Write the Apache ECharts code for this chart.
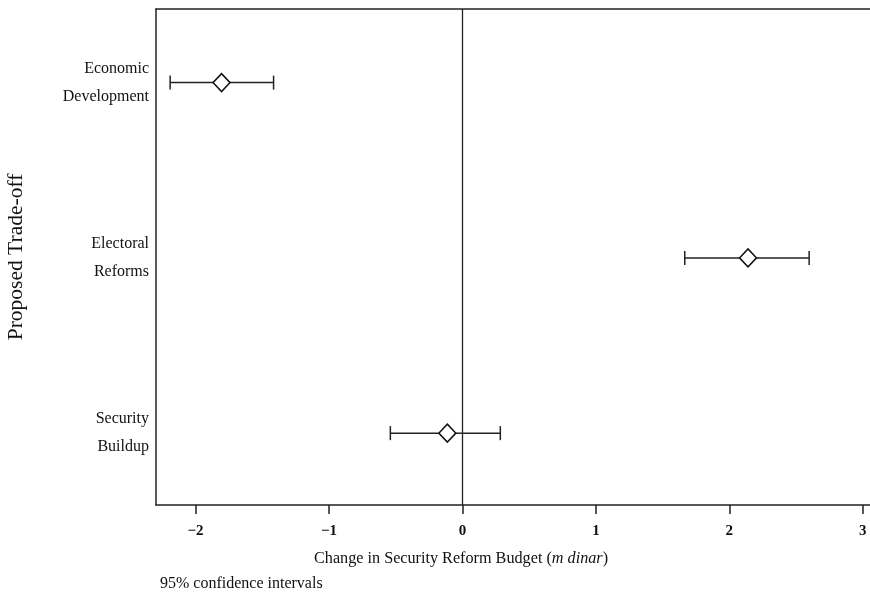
<!DOCTYPE html>
<html>
<head>
<meta charset="utf-8">
<script src="https://cdn.jsdelivr.net/npm/echarts@6/dist/echarts.min.js"></script>
<style>html,body{margin:0;padding:0;background:#fff}#c{width:870px;height:598px}</style>
</head>
<body>
<div id="c"></div>
<script>
var categories = ['Economic\nDevelopment', 'Electoral\nReforms', 'Security\nBuildup'];
var positions = [1, 2, 3];
var estimates = [-1.805, 2.14, -0.113];
var lower = [-2.19, 1.666, -0.54];
var upper = [-1.415, 2.598, 0.284];
var xTicks = [-2, -1, 0, 1, 2, 3];

var chart = echarts.init(document.getElementById('c'), null, {renderer: 'canvas'});
var serif = '"Liberation Serif", "DejaVu Serif", serif';
var ink = '#222';

var ciData = positions.map(function (p, i) { return [lower[i], upper[i], p]; });
var ptData = positions.map(function (p, i) { return [estimates[i], p]; });

chart.setOption({
  animation: false,
  backgroundColor: '#fff',
  grid: {left: 156, top: 9, right: 0, bottom: 93, containLabel: false, outerBoundsMode: 'none'},
  xAxis: [{
    type: 'value', min: -2.296, max: 3.054,
    axisLine: {show: true, onZero: false, lineStyle: {color: ink, width: 1.5}},
    axisTick: {show: true, length: 9, customValues: xTicks, lineStyle: {color: ink, width: 1.5}},
    axisLabel: {
      customValues: xTicks, margin: 19, color: '#111',
      fontFamily: serif, fontSize: 15, fontWeight: 'bold',
      formatter: function (v) { return v < 0 ? '\u2212' + Math.abs(v) : String(v); }
    },
    splitLine: {show: false}
  }, {
    type: 'value', position: 'top', min: -2.296, max: 3.054,
    axisLine: {show: true, onZero: false, lineStyle: {color: ink, width: 1.5}},
    axisTick: {show: false}, axisLabel: {show: false}, splitLine: {show: false}
  }],
  yAxis: {
    type: 'value', inverse: true, min: 0.58, max: 3.41,
    axisLine: {show: true, onZero: false, lineStyle: {color: ink, width: 1.5}},
    axisTick: {show: false},
    splitLine: {show: false},
    axisLabel: {
      customValues: positions, margin: 7, color: '#111',
      fontFamily: serif, fontSize: 16, lineHeight: 28, align: 'right',
      formatter: function (v) { return categories[positions.indexOf(v)] || ''; }
    },
    name: 'Proposed Trade-off', nameLocation: 'middle', nameGap: 129,
    nameTextStyle: {fontFamily: serif, fontSize: 21.5, color: '#111'}
  },
  graphic: [
    {type: 'text', left: 160, top: 576, style: {text: '95% confidence intervals', fontFamily: serif, fontSize: 16, fill: '#111'}}
  ],
  title: {
    text: '{a|Change in Security Reform Budget (}{b|m dinar}{a|)}',
    left: 309, top: 546,
    textStyle: {
      fontWeight: 'normal',
      rich: {
        a: {fontFamily: serif, fontSize: 16.2, color: '#111', fontWeight: 'normal'},
        b: {fontFamily: serif, fontSize: 16.2, color: '#111', fontStyle: 'italic', fontWeight: 'normal'}
      }
    }
  },
  series: [{
    type: 'custom',
    data: ciData,
    renderItem: function (params, api) {
      var a = api.coord([api.value(0), api.value(2)]);
      var b = api.coord([api.value(1), api.value(2)]);
      var h = 7;
      var st = {stroke: ink, lineWidth: 1.5};
      return {type: 'group', children: [
        {type: 'line', shape: {x1: a[0], y1: a[1], x2: b[0], y2: b[1]}, style: st},
        {type: 'line', shape: {x1: a[0], y1: a[1] - h, x2: a[0], y2: a[1] + h}, style: st},
        {type: 'line', shape: {x1: b[0], y1: b[1] - h, x2: b[0], y2: b[1] + h}, style: st}
      ]};
    },
    z: 2
  }, {
    type: 'scatter',
    data: ptData,
    symbol: 'diamond',
    symbolSize: [17, 18],
    itemStyle: {color: '#fff', borderColor: '#111', borderWidth: 1.5, opacity: 1},
    z: 3,
    markLine: {
      silent: true, symbol: 'none', label: {show: false},
      lineStyle: {color: ink, width: 1.3, type: 'solid'},
      data: [{xAxis: 0}]
    }
  }]
});
</script>
</body>
</html>
